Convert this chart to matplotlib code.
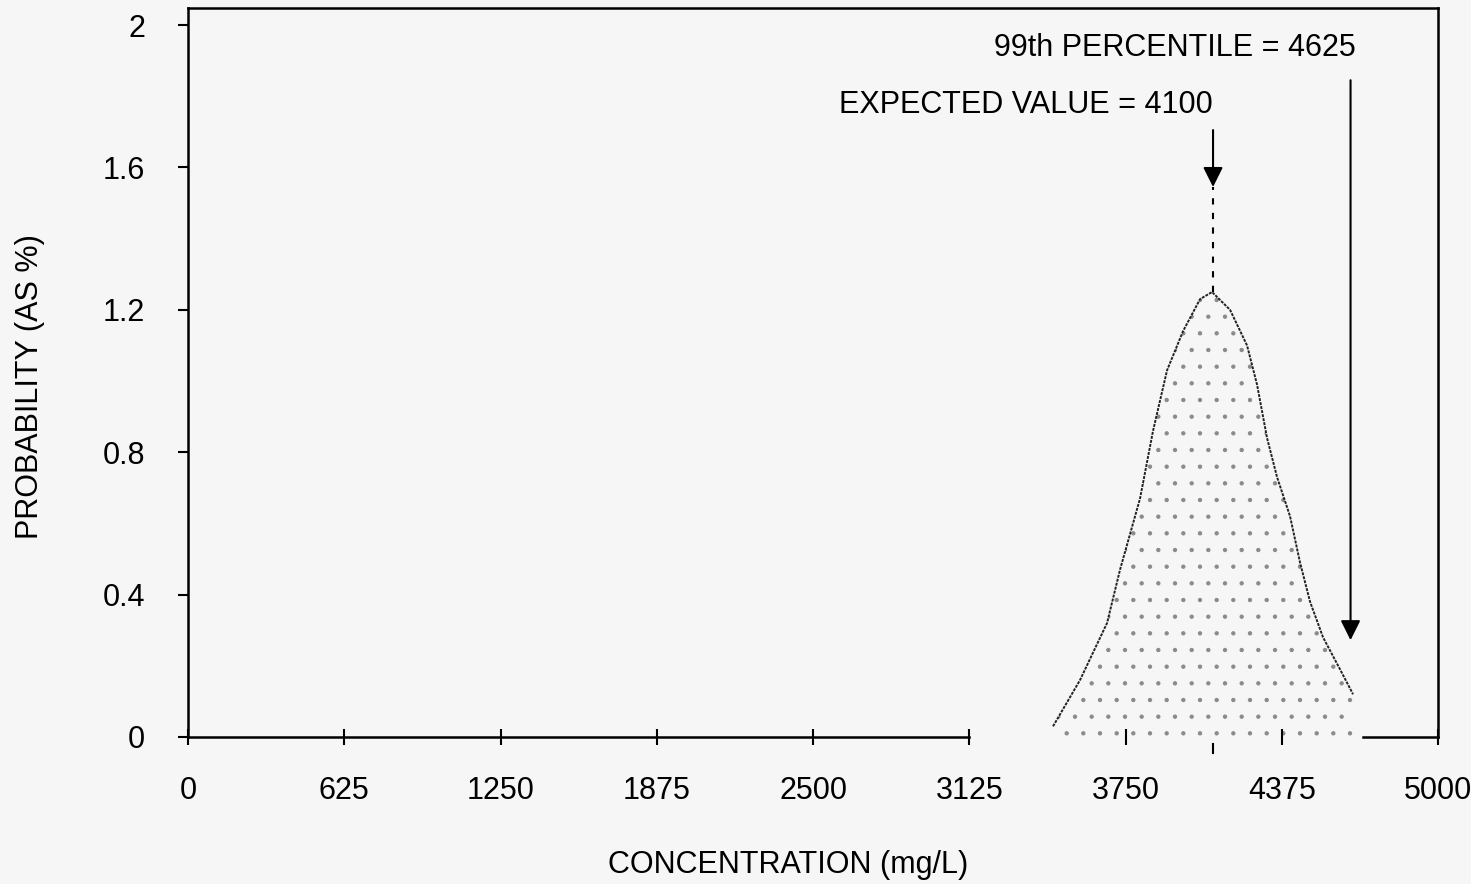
import numpy as np
import matplotlib.pyplot as plt

plt.rcParams['font.family'] = ['Liberation Sans', 'DejaVu Sans']
plt.rcParams['hatch.linewidth'] = 0.7

# outline of the distribution
conc = np.array([3460, 3568, 3676, 3728, 3808, 3860, 3916, 3980, 4048, 4096,
                 4168, 4236, 4276, 4316, 4356, 4408, 4448, 4488, 4540, 4608, 4660])
prob = np.array([0.03, 0.16, 0.32, 0.47, 0.67, 0.86, 1.03, 1.14, 1.23, 1.25,
                 1.20, 1.10, 0.99, 0.84, 0.73, 0.62, 0.49, 0.38, 0.28, 0.19, 0.12])

xticks = [0, 625, 1250, 1875, 2500, 3125, 3750, 4375, 5000]
yticks = [0, 0.4, 0.8, 1.2, 1.6, 2]
ytick_labels = ['0', '0.4', '0.8', '1.2', '1.6', '2']

expected = 4100
pct99 = 4650

bg = '#f6f6f6'
fig = plt.figure(figsize=(14.71, 8.84), dpi=100, facecolor=bg)
ax = fig.add_axes([0.1278, 0.1663, 0.8498, 0.8247])
ax.set_facecolor(bg)
ax.set_xlim(0, 5000)
ax.set_ylim(0, 2.048)

# stippled distribution
ax.fill_between(conc, 0, prob, facecolor='none', edgecolor='#8a8a8a',
                hatch='.', linewidth=0)
ax.plot(conc, prob, color='#222222', lw=1.4, ls=(0, (1.5, 0.6)))

# broken bottom axis
ax.spines['bottom'].set_visible(False)
ax.plot([0, 3125], [0, 0], color='black', lw=1.8, clip_on=False)
ax.plot([4700, 5000], [0, 0], color='black', lw=1.8, clip_on=False)
for s in ['left', 'top', 'right']:
    ax.spines[s].set_linewidth(1.8)

# expected value marker
ax.annotate('', xy=(expected, 1.545), xytext=(expected, 1.705),
            arrowprops=dict(arrowstyle='-|>', color='black', lw=1.5,
                            mutation_scale=30, shrinkA=0, shrinkB=0))
ax.plot([expected, expected], [max(prob), 1.545], color='black', lw=1.5,
        ls=(0, (3, 4)))
ax.plot([expected, expected], [-0.045, -0.02], color='black', lw=1.5, clip_on=False)
ax.text(expected, 1.733, 'EXPECTED VALUE = %d' % expected, ha='right',
        va='bottom', fontsize=22)

# 99th percentile marker
ax.annotate('', xy=(pct99, 0.272), xytext=(pct99, 1.845),
            arrowprops=dict(arrowstyle='-|>', color='black', lw=1.5,
                            mutation_scale=30, shrinkA=0, shrinkB=0))
ax.text(pct99 + 20, 1.893, '99th PERCENTILE = 4625', ha='right', va='bottom',
        fontsize=22)

ax.set_xticks(xticks)
ax.set_xticklabels([str(t) for t in xticks])
ax.set_yticks(yticks)
ax.set_yticklabels(ytick_labels)
ax.tick_params(axis='x', direction='inout', length=12, width=1.5, pad=22,
               labelsize=22)
ax.tick_params(axis='y', direction='out', length=7, width=1.5, pad=24,
               labelsize=22)

ax.set_xlabel('CONCENTRATION (mg/L)', fontsize=22, labelpad=32)
ax.set_ylabel('PROBABILITY (AS %)', fontsize=22, labelpad=41)
ax.xaxis.label.set_x(0.48)
ax.yaxis.label.set_y(0.48)

fig.savefig('out.png', dpi=100, facecolor=bg)
